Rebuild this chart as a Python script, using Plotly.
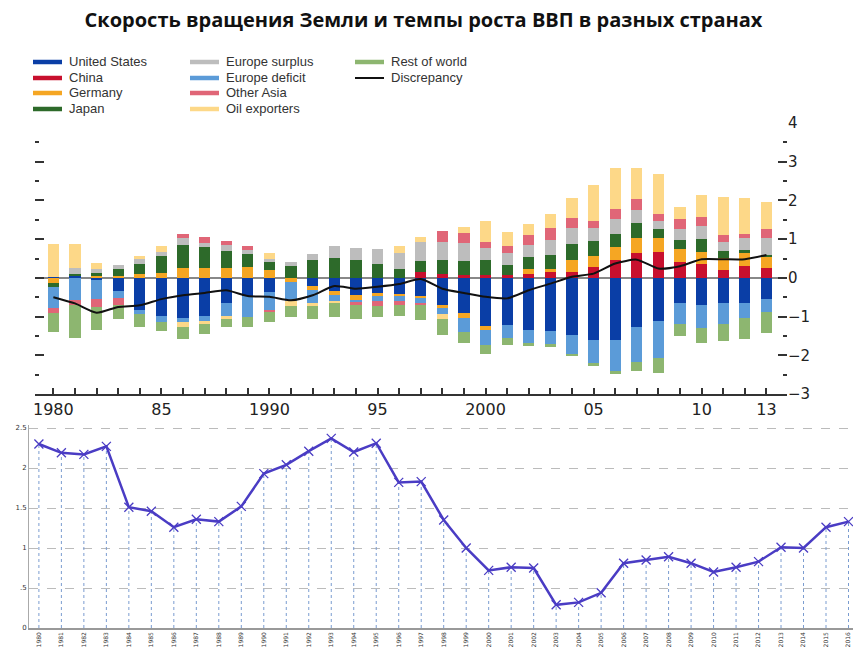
import plotly.graph_objects as go

years = list(range(1980, 2014))

us = [0.03, 0.05, -0.05, -0.34, -0.82, -0.98, -1.03, -0.98, -0.66, -0.47, -0.36, 0.0, -0.21, -0.34, -0.45, -0.39, -0.41,
      -0.47, -0.71, -0.92, -1.25, -1.21, -1.35, -1.38, -1.48, -1.61, -1.61, -1.27, -1.12, -0.66, -0.71, -0.66, -0.65, -0.55]
china = [0, 0, 0, 0, 0, 0, 0, 0, 0, 0, 0, 0, 0, 0, 0, 0, 0,
         0.14, 0.11, 0.07, 0.07, 0.07, 0.11, 0.16, 0.16, 0.28, 0.47, 0.63, 0.67, 0.41, 0.37, 0.20, 0.30, 0.26]
germany = [-0.13, 0.0, 0.05, 0.04, 0.09, 0.13, 0.26, 0.26, 0.26, 0.28, 0.20, -0.10, -0.10, -0.09, -0.11, -0.09, -0.06,
           -0.04, -0.06, -0.11, -0.10, 0.0, 0.11, 0.06, 0.30, 0.28, 0.33, 0.41, 0.36, 0.33, 0.30, 0.32, 0.34, 0.28]
japan = [-0.10, 0.05, 0.08, 0.18, 0.28, 0.43, 0.60, 0.53, 0.44, 0.33, 0.20, 0.30, 0.46, 0.52, 0.47, 0.37, 0.22,
         0.30, 0.36, 0.36, 0.39, 0.26, 0.32, 0.37, 0.41, 0.39, 0.34, 0.39, 0.22, 0.25, 0.34, 0.17, 0.09, 0.06]
europe_surplus = [0.0, 0.15, 0.11, 0.12, 0.13, 0.11, 0.17, 0.12, 0.15, 0.12, 0.10, 0.10, 0.15, 0.30, 0.30, 0.38, 0.43,
                  0.49, 0.46, 0.46, 0.30, 0.32, 0.30, 0.39, 0.41, 0.33, 0.39, 0.31, 0.22, 0.26, 0.34, 0.24, 0.30, 0.44]
europe_deficit = [-0.56, -0.56, -0.49, -0.19, -0.12, -0.16, -0.12, -0.16, -0.32, -0.53, -0.46, -0.50, -0.35, -0.18, -0.07,
                  -0.12, -0.13, -0.14, -0.17, -0.36, -0.39, -0.34, -0.33, -0.34, -0.50, -0.58, -0.79, -0.91, -0.94,
                  -0.52, -0.59, -0.52, -0.39, -0.34]
other_asia = [-0.13, -0.15, -0.22, -0.17, 0.0, 0.0, 0.11, 0.14, 0.11, 0.09, -0.07, 0.0, 0.0, 0.0, -0.06, -0.12, -0.11,
              -0.06, 0.28, 0.26, 0.17, 0.18, 0.26, 0.30, 0.26, 0.19, 0.26, 0.30, 0.18, 0.26, 0.22, 0.17, 0.10, 0.22]
oil_exporters = [0.85, 0.62, 0.15, 0.0, 0.06, 0.15, -0.13, -0.04, -0.07, 0.0, 0.15, -0.12, -0.07, -0.05, 0.0, 0.0, 0.18,
                 0.13, -0.12, 0.17, 0.54, 0.36, 0.28, 0.36, 0.52, 0.93, 1.05, 0.81, 1.03, 0.31, 0.58, 0.99, 0.92, 0.71]
rest_of_world = [-0.49, -0.84, -0.58, -0.37, -0.33, -0.24, -0.31, -0.26, -0.23, -0.28, -0.25, -0.28, -0.32, -0.36, -0.38,
                 -0.28, -0.28, -0.37, -0.42, -0.28, -0.22, -0.18, -0.09, -0.06, -0.04, -0.09, -0.09, -0.23, -0.39,
                 -0.33, -0.38, -0.45, -0.53, -0.53]
discrepancy = [-0.50, -0.66, -0.90, -0.75, -0.71, -0.55, -0.45, -0.39, -0.32, -0.47, -0.49, -0.58, -0.45, -0.21, -0.28,
               -0.23, -0.16, -0.03, -0.28, -0.39, -0.49, -0.53, -0.32, -0.15, 0.03, 0.11, 0.37, 0.47, 0.24, 0.30,
               0.48, 0.48, 0.48, 0.59]

top_tickvals = years
top_ticktext = ["1980" if y == 1980 else {1985: "85", 1990: "1990", 1995: "95", 2000: "2000",
                                          2005: "05", 2010: "10", 2013: "13"}.get(y, "") for y in years]

# Bottom panel
rot_years = list(range(1980, 2017))
rot_speed = [2.30, 2.19, 2.17, 2.27, 1.51, 1.46, 1.26, 1.36, 1.33, 1.52, 1.93, 2.04, 2.21, 2.37, 2.20, 2.31, 1.82,
             1.83, 1.35, 1.00, 0.72, 0.76, 0.75, 0.29, 0.32, 0.44, 0.81, 0.85, 0.89, 0.81, 0.70, 0.76, 0.83, 1.01,
             1.00, 1.26, 1.33]
rot_yticks = [0, 0.5, 1, 1.5, 2, 2.5]
rot_yticktext = ["0", ".5", "1", "1.5", "2", "2.5"]

series = [
    ("United States", us, "#0a3ea6"),
    ("China", china, "#c8102e"),
    ("Germany", germany, "#f5a623"),
    ("Japan", japan, "#2d6a2a"),
    ("Europe surplus", europe_surplus, "#bdbdbd"),
    ("Europe deficit", europe_deficit, "#5b9bd8"),
    ("Other Asia", other_asia, "#e06677"),
    ("Oil exporters", oil_exporters, "#fdd888"),
    ("Rest of world", rest_of_world, "#8db670"),
]

fig = go.Figure()
for name, vals, col in series:
    fig.add_trace(go.Bar(x=years, y=vals, name=name, marker=dict(color=col, line=dict(width=0)),
                         width=0.52, xaxis="x", yaxis="y", showlegend=False))
fig.add_trace(go.Scatter(x=years, y=discrepancy, name="Discrepancy", mode="lines",
                         line=dict(color="#111111", width=2, shape="spline", smoothing=0.6),
                         xaxis="x", yaxis="y", showlegend=False))

# bottom panel traces
vx, vy = [], []
for yr, v in zip(rot_years, rot_speed):
    vx += [yr, yr, None]
    vy += [0, v, None]
fig.add_trace(go.Scatter(x=vx, y=vy, mode="lines", line=dict(color="#7a9cd0", width=1, dash="dot"),
                         xaxis="x2", yaxis="y2", showlegend=False, hoverinfo="skip"))
fig.add_trace(go.Scatter(x=rot_years, y=rot_speed, mode="lines+markers",
                         line=dict(color="#4a3cc4", width=2.5),
                         marker=dict(symbol="x-thin-open", size=9, line=dict(color="#86aee0", width=1.3)),
                         xaxis="x2", yaxis="y2", showlegend=False))

W, H = 853, 648
def px(x):
    return x / W
def py(y):
    return 1 - y / H

fig.update_layout(
    width=W, height=H, margin=dict(l=0, r=0, t=0, b=0, autoexpand=False),
    paper_bgcolor="white", plot_bgcolor="white",
    barmode="relative", bargap=0,
    font=dict(family="Liberation Sans, Arial, sans-serif", color="#333333"),
    title=dict(text="<b>Скорость вращения Земли и темпы роста ВВП в разных странах</b>",
               x=0.4965, xanchor="center", y=py(20), yanchor="middle", automargin=False,
               font=dict(family="Open Sans, sans-serif", size=20, color="#111111")),
    xaxis=dict(domain=[px(35), px(787)], range=[1979.15, 2013.95], tickvals=top_tickvals, ticktext=top_ticktext,
               ticks="inside", ticklen=6, tickwidth=1.5, tickcolor="#333", showline=True, linecolor="#333",
               linewidth=1.5, showgrid=False, zeroline=False, automargin=False,
               tickfont=dict(family="DejaVu Sans, sans-serif", size=16, color="#222"), anchor="y"),
    yaxis=dict(domain=[py(394), py(123)], range=[-3, 4], side="right", tickvals=[-3, -2, -1, 0, 1, 2, 3, 4],
               ticks="inside", ticklen=9, tickwidth=1.5, tickcolor="#333", mirror="ticks",
               minor=dict(tickvals=[-2.5, -1.5, -0.5, 0.5, 1.5, 2.5, 3.5], ticks="inside", ticklen=4,
                          tickwidth=1.5, tickcolor="#333"),
               showgrid=False, zeroline=True, zerolinecolor="#888888", zerolinewidth=1.5, showline=False,
               automargin=False,
               tickfont=dict(family="DejaVu Sans, sans-serif", size=15, color="#222"), anchor="x"),
    xaxis2=dict(domain=[px(29), 1], range=[1979.56, 2016.2], tickvals=rot_years,
                ticktext=[str(y) for y in rot_years], tickangle=-90, ticks="", showline=True,
                linecolor="#999", linewidth=1.5, showgrid=False, zeroline=False, automargin=False,
                tickfont=dict(family="DejaVu Sans, sans-serif", size=6, color="#333"), anchor="y2"),
    yaxis2=dict(domain=[py(628), py(425)], range=[0, 2.5375], tickvals=rot_yticks, ticktext=rot_yticktext,
                showline=True, linecolor="#aaa", linewidth=1, showgrid=True, gridcolor="#bbbbbb",
                griddash="dash", gridwidth=1.2, zeroline=False, ticks="", automargin=False,
                tickfont=dict(family="DejaVu Sans, sans-serif", size=7, color="#333"), anchor="x2"),
)

# legend drawn as swatches + text
legend_items = [
    ("United States", "#0a3ea6", 0, 0), ("China", "#c8102e", 0, 1), ("Germany", "#f5a623", 0, 2),
    ("Japan", "#2d6a2a", 0, 3), ("Europe surplus", "#bdbdbd", 1, 0), ("Europe deficit", "#5b9bd8", 1, 1),
    ("Other Asia", "#e06677", 1, 2), ("Oil exporters", "#fdd888", 1, 3), ("Rest of world", "#8db670", 2, 0),
    ("Discrepancy", "#111111", 2, 1),
]
col_x = [33, 190, 355]
row_y = [62, 78, 93, 109]
shapes = []
annotations = []
for name, col, c, r in legend_items:
    x0 = col_x[c]
    yy = row_y[r]
    shapes.append(dict(type="line", xref="paper", yref="paper", x0=px(x0), x1=px(x0 + 29), y0=py(yy), y1=py(yy),
                       line=dict(color=col, width=2 if name == "Discrepancy" else 4.5)))
    annotations.append(dict(text=name, xref="paper", yref="paper", x=px(x0 + 34), y=py(yy), xanchor="left",
                            yanchor="middle", showarrow=False,
                            font=dict(family="Liberation Sans, Arial, sans-serif", size=13, color="#333")))
fig.update_layout(shapes=shapes, annotations=annotations)

fig.write_html("out.html", config={"displayModeBar": False},
               post_script="document.body.style.margin='0px';document.body.style.overflow='hidden';")
